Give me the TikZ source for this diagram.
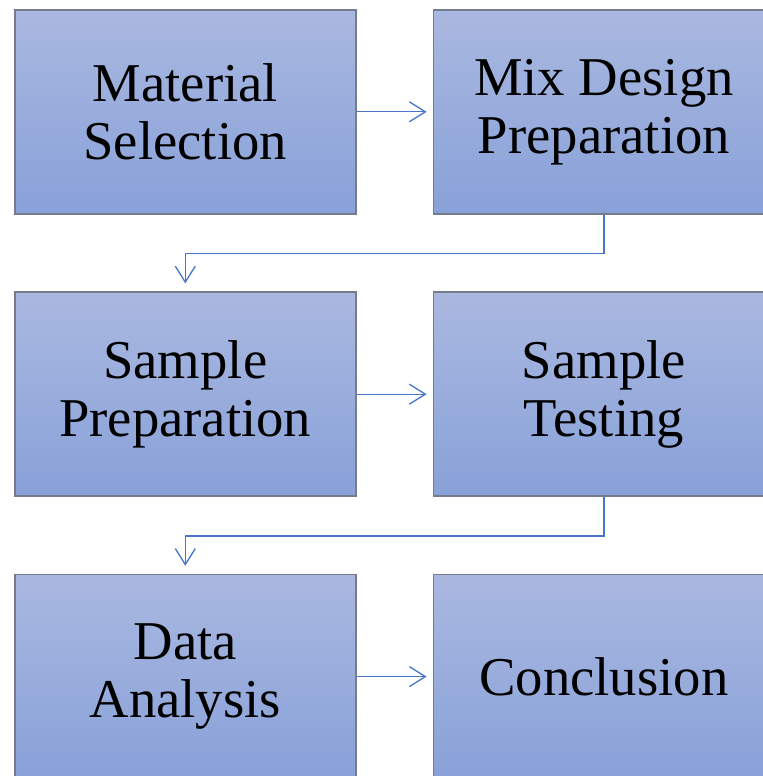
\documentclass[tikz,border=0pt]{standalone}
\usepackage{fontspec}
\setmainfont{Liberation Serif}
\usetikzlibrary{arrows.meta, positioning}
\definecolor{boxTop}{RGB}{169, 184, 224}
\definecolor{boxBottom}{RGB}{137, 161, 217}
\definecolor{boxEdge}{RGB}{118, 124, 140}
\definecolor{flowBlue}{RGB}{72, 118, 204}
\begin{document}
\begin{tikzpicture}[node distance=57.6pt and 57pt,
    stagebox/.style={draw=boxEdge, line width=1.2pt, top color=boxTop, bottom color=boxBottom,
        minimum width=255.75pt, minimum height=153pt, align=center, inner sep=0pt,
        font=\fontsize{41pt}{43.5pt}\selectfont},
    flow/.style={-{Straight Barb[length=12pt, width=15pt, line width=1pt]}, line width=1pt, flowBlue}]
    \useasboundingbox (0,0) rectangle (572.25pt,-582pt);
    \clip (0,0) rectangle (572.25pt,-582pt);
    \node[stagebox, anchor=north west] (ms) at (10.5pt,-6.75pt) {Material\\Selection};
    \node[stagebox, right=of ms] (md) {Mix Design\\Preparation};
    \node[stagebox, below=of ms] (sp) {Sample\\Preparation};
    \node[stagebox, right=of sp] (st) {Sample\\Testing};
    \node[stagebox, below=of sp] (da) {Data\\Analysis};
    \node[stagebox, right=of da] (cc) {Conclusion};

    \draw[flow, shorten >=4.5pt] (ms) -- (md);
    \draw[flow, shorten >=6pt] (md.south) -- ++(0,-29.25pt) -| (sp.north);
    \draw[flow, shorten >=4.5pt] (sp) -- (st);
    \draw[flow, shorten >=6pt] (st.south) -- ++(0,-29.25pt) -| (da.north);
    \draw[flow, shorten >=4.5pt] (da) -- (cc);
\end{tikzpicture}
\end{document}
